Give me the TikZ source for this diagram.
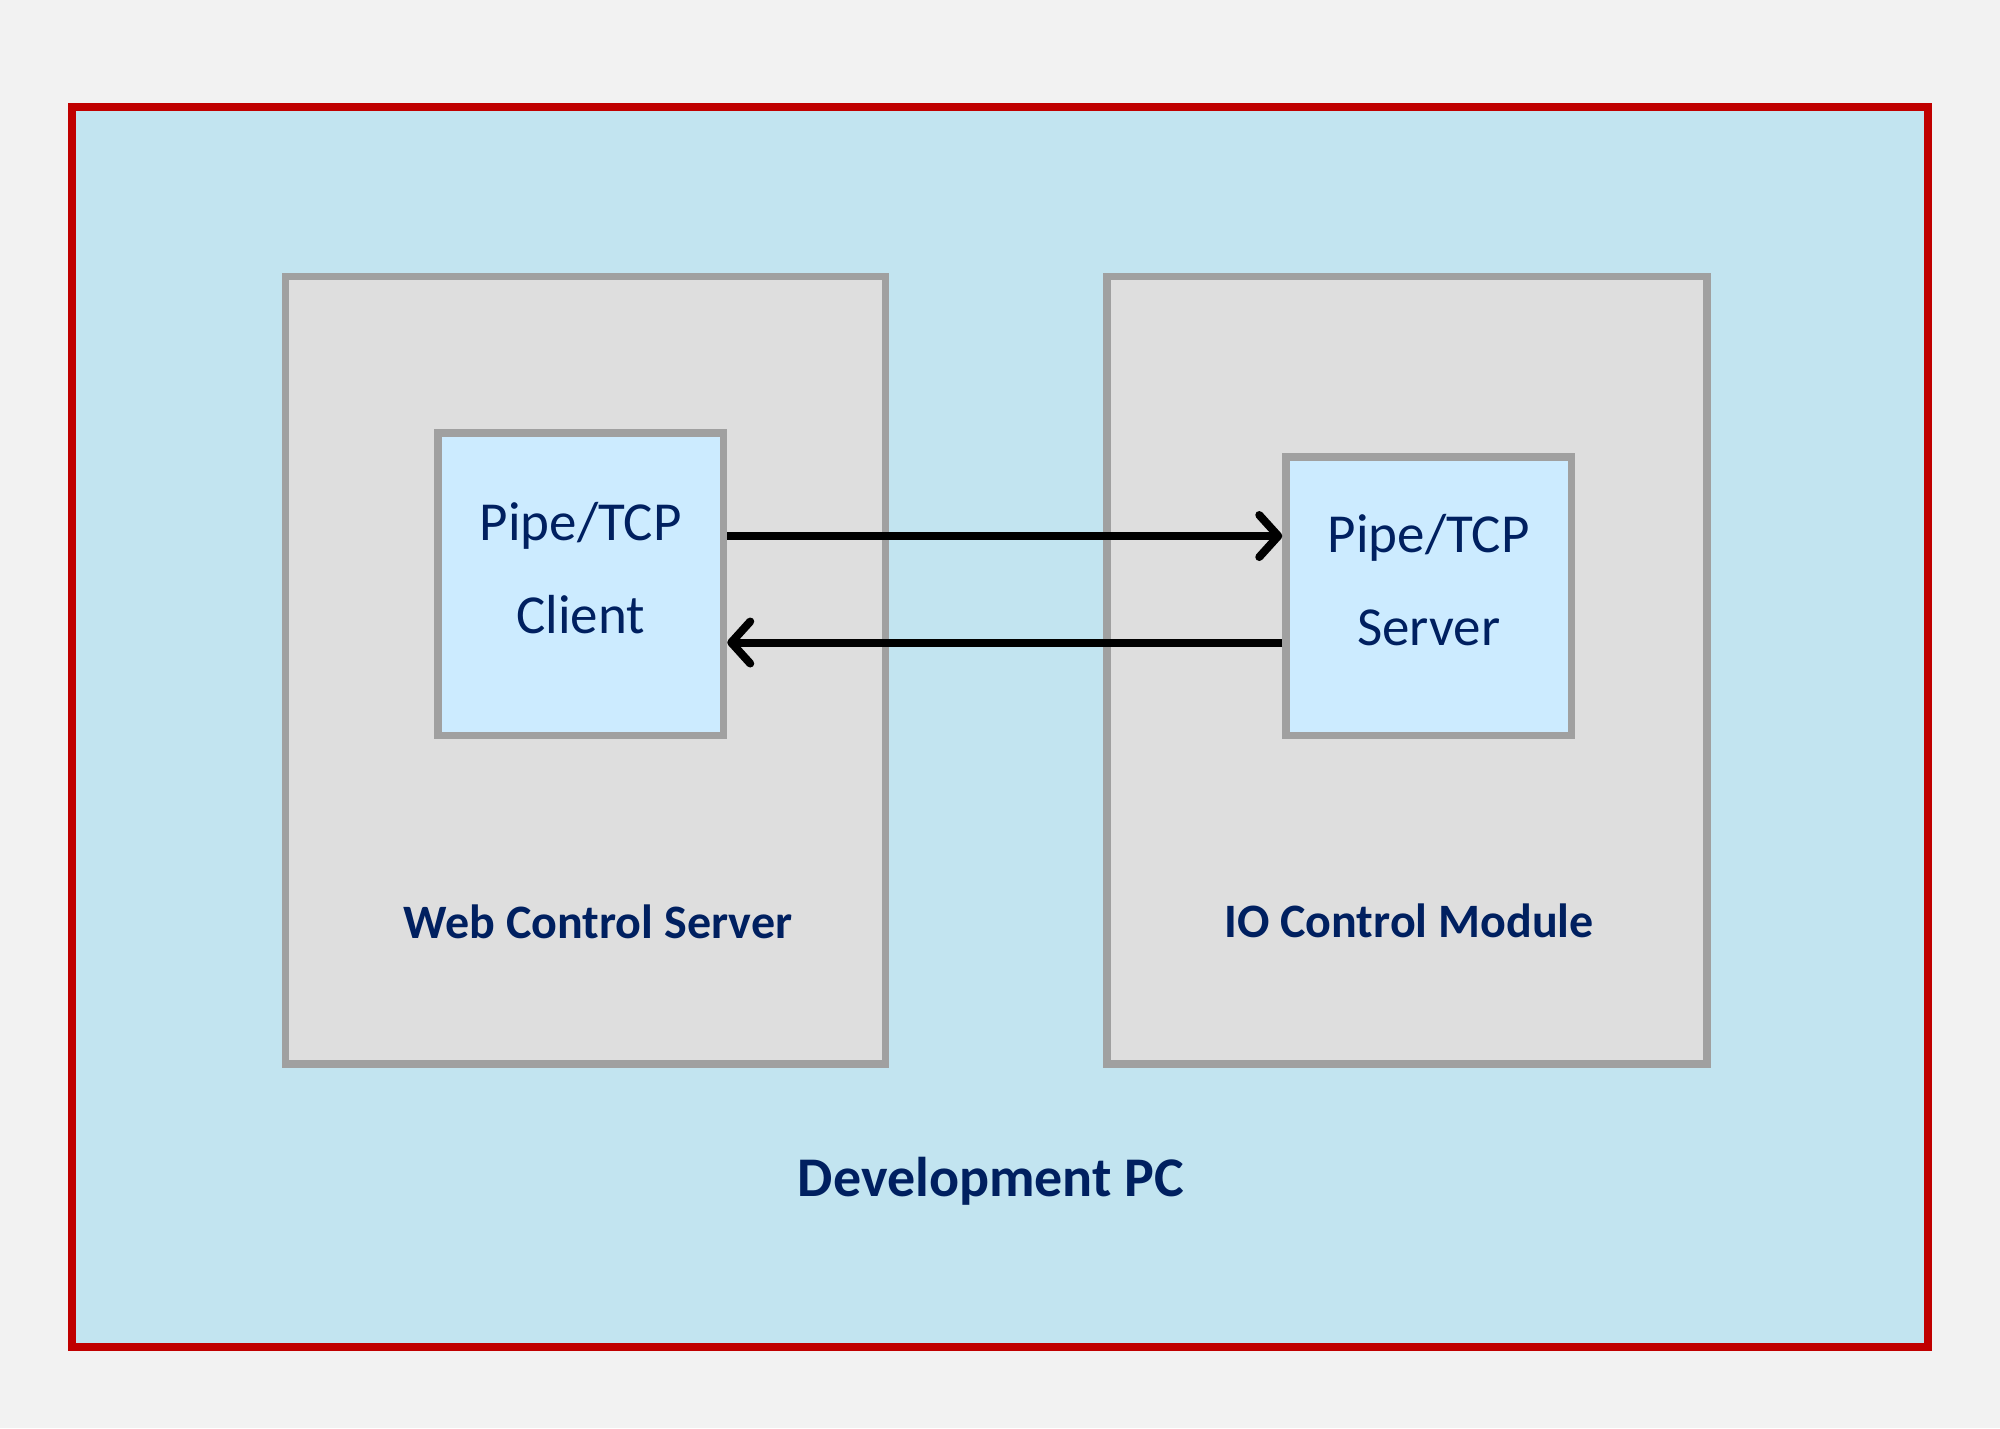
\documentclass[tikz,border=0pt]{standalone}
\usepackage{fontspec}
\setmainfont{Carlito}
\usetikzlibrary{arrows.meta}

\definecolor{pagegray}{HTML}{F2F2F2}
\definecolor{pcblue}{HTML}{C2E4F0}
\definecolor{pcred}{HTML}{C00000}
\definecolor{modfill}{HTML}{DEDEDE}
\definecolor{modline}{HTML}{A0A0A0}
\definecolor{sockfill}{HTML}{CCEBFF}
\definecolor{navy}{HTML}{002060}

\begin{document}
\begin{tikzpicture}
  [x=1pt,y=-1pt,every node/.style={inner sep=0pt,text=navy}]
  \tikzstyle{pcbox} = [draw=pcred,fill=pcblue,line width=8pt]
  \tikzstyle{modbox} = [draw=modline,fill=modfill,line width=7.5pt,minimum width=600pt,minimum height=787.5pt]
  \tikzstyle{sockbox} = [draw=modline,fill=sockfill,line width=7.5pt,minimum width=285.5pt]
  \tikzstyle{socktxt} = [anchor=base,font=\fontsize{55}{66}\selectfont]
  \tikzstyle{modtxt} = [anchor=base,font=\fontsize{48}{57}\selectfont\bfseries]
  \tikzstyle{link} = [line width=8pt,-{Straight Barb[length=19pt,width=42pt,round]}]

  \fill[pagegray] (0,0) rectangle (2000,1428);
  \useasboundingbox (0,0) rectangle (2000,1428);

  % boxes
  \node[pcbox,minimum width=1856.5pt,minimum height=1240pt] (pc) at (999.75,727) {};
  \node[modbox] (web) at (585.5,670.25) {};
  \node[modbox] (io) at (1407,670.25) {};
  \node[sockbox,minimum height=302.5pt] (client) at (580.75,584.25) {};
  \node[sockbox,minimum height=278.5pt] (server) at (1428.75,596.25) {};

  % texts
  \node[socktxt] (client1) at (580.75,540) {Pipe/TCP};
  \node[socktxt] (client2) at (580.75,633) {Client};
  \node[socktxt] (server1) at (1428.75,552) {Pipe/TCP};
  \node[socktxt] (server2) at (1428.75,645) {Server};
  \node[modtxt] (webname) at (598,938) {Web Control Server};
  \node[modtxt] (ioname) at (1409,937) {IO Control Module};
  \node[anchor=base,font=\fontsize{56}{67}\selectfont\bfseries] (pcname) at (991,1196) {Development PC};

  \draw[link] ([yshift=48.25pt]client.east) -- ([yshift=60.25pt]server.west);
  \draw[link] ([yshift=-46.25pt]server.west) -- ([yshift=-58.25pt]client.east);
\end{tikzpicture}
\end{document}
